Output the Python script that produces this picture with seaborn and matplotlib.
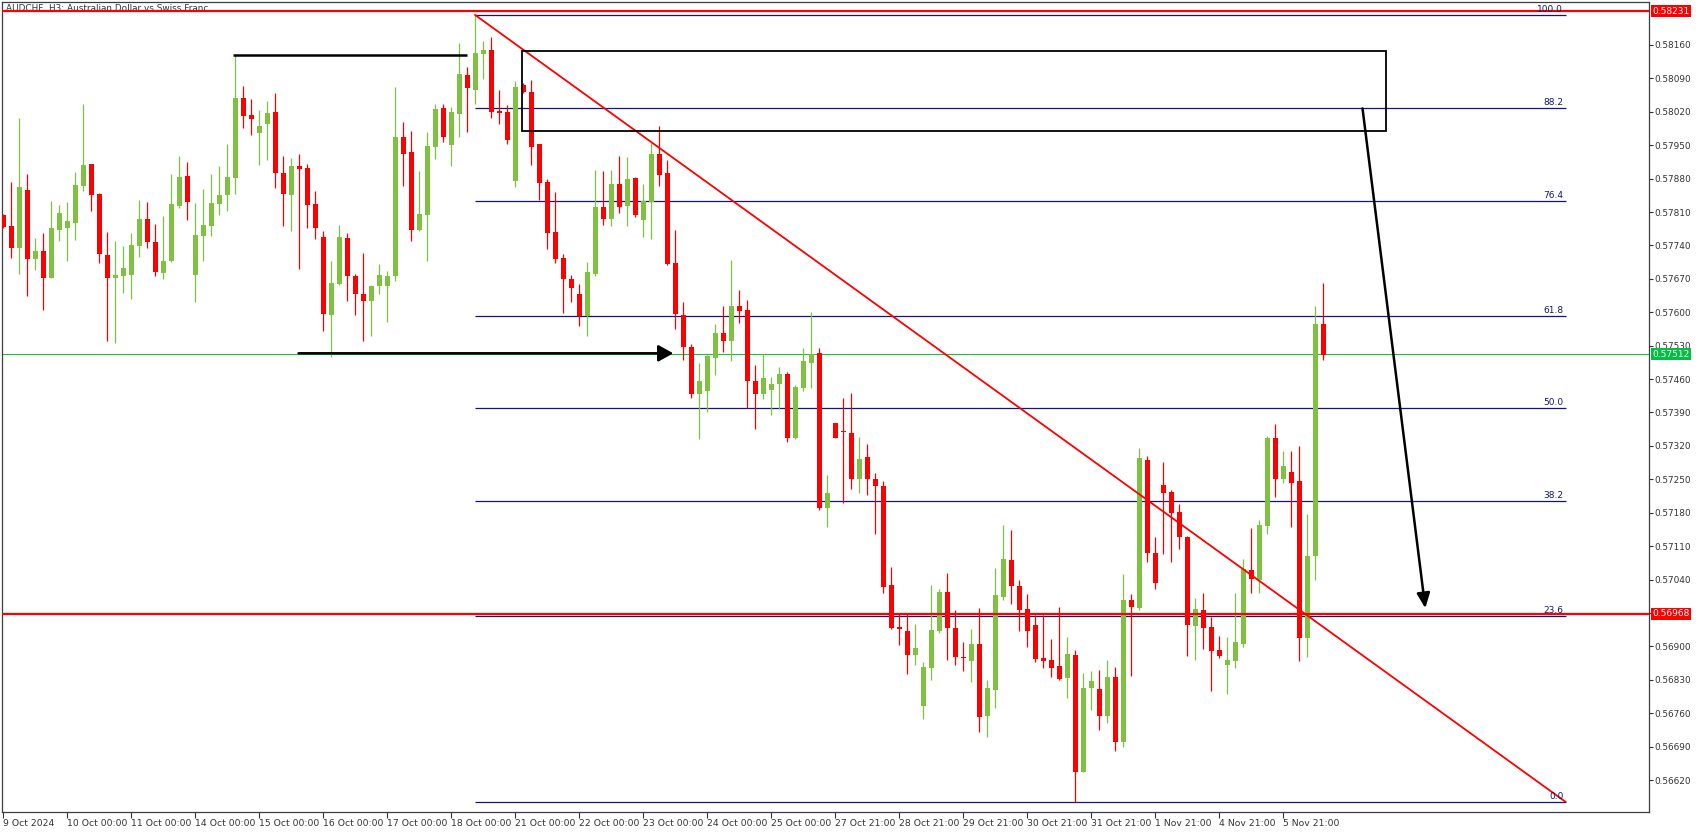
import numpy as np
import pandas as pd
import matplotlib
matplotlib.use('Agg')
import matplotlib.pyplot as plt
import matplotlib.transforms as mtransforms
from matplotlib.patches import Rectangle
import seaborn as sns

sns.set_theme(style='white')
plt.rcParams['font.family'] = ['DejaVu Sans']

# AUDCHF H3 candles
opens = [0.57804, 0.57781, 0.57735, 0.57856, 0.57711, 0.57728, 0.57672, 0.57773, 0.57777, 0.57788,
         0.57865, 0.57911, 0.57848, 0.57720, 0.57672, 0.57676, 0.57679, 0.57739, 0.57795, 0.57747,
         0.57683, 0.57707, 0.57823, 0.57885, 0.57678, 0.57760, 0.57781, 0.57827, 0.57846, 0.57882,
         0.58049, 0.58013, 0.57976, 0.57995, 0.58020, 0.57892, 0.57846, 0.57906, 0.57902, 0.57827,
         0.57758, 0.57595, 0.57660, 0.57756, 0.57676, 0.57639, 0.57624, 0.57654, 0.57656, 0.57675,
         0.57967, 0.57936, 0.57773, 0.57804, 0.57947, 0.58028, 0.57951, 0.58016, 0.58097, 0.58066,
         0.58142, 0.58150, 0.58022, 0.58020, 0.57874, 0.58076, 0.58062, 0.57953, 0.57873, 0.57769,
         0.57714, 0.57670, 0.57639, 0.57593, 0.57681, 0.57821, 0.57796, 0.57869, 0.57823, 0.57882,
         0.57794, 0.57832, 0.57932, 0.57892, 0.57704, 0.57594, 0.57527, 0.57429, 0.57436, 0.57505,
         0.57556, 0.57540, 0.57613, 0.57605, 0.57456, 0.57429, 0.57438, 0.57450, 0.57471, 0.57337,
         0.57442, 0.57494, 0.57515, 0.57190, 0.57368, 0.57351, 0.57347, 0.57251, 0.57297, 0.57250,
         0.57236, 0.57028, 0.56940, 0.56932, 0.56882, 0.56775, 0.56855, 0.56933, 0.57014, 0.56938,
         0.56877, 0.56870, 0.56905, 0.56754, 0.56809, 0.57004, 0.57081, 0.57026, 0.56978, 0.56944,
         0.56875, 0.56871, 0.56859, 0.56834, 0.56882, 0.56637, 0.56812, 0.56810, 0.56754, 0.56835,
         0.56700, 0.56997, 0.56981, 0.57290, 0.57095, 0.57238, 0.57223, 0.57181, 0.57130, 0.56943,
         0.56976, 0.56940, 0.56892, 0.56861, 0.56870, 0.56905, 0.57060, 0.57039, 0.57153, 0.57337,
         0.57251, 0.57265, 0.57247, 0.56918, 0.57090, 0.57575]
highs = [0.57806, 0.57873, 0.58007, 0.57890, 0.57756, 0.57766, 0.57833, 0.57825, 0.57831, 0.57894,
         0.58036, 0.57911, 0.57850, 0.57768, 0.57749, 0.57739, 0.57766, 0.57835, 0.57831, 0.57785,
         0.57802, 0.57890, 0.57927, 0.57915, 0.57829, 0.57858, 0.57890, 0.57906, 0.57953, 0.58138,
         0.58074, 0.58047, 0.58024, 0.58043, 0.58059, 0.57927, 0.57923, 0.57932, 0.57911, 0.57854,
         0.57770, 0.57707, 0.57783, 0.57766, 0.57680, 0.57724, 0.57657, 0.57701, 0.57686, 0.58072,
         0.57999, 0.57980, 0.57896, 0.57978, 0.58036, 0.58036, 0.58030, 0.58164, 0.58114, 0.58223,
         0.58168, 0.58177, 0.58066, 0.58034, 0.58085, 0.58080, 0.58087, 0.57953, 0.57879, 0.57852,
         0.57723, 0.57679, 0.57660, 0.57706, 0.57899, 0.57895, 0.57899, 0.57928, 0.57926, 0.57884,
         0.57869, 0.57955, 0.57991, 0.57918, 0.57773, 0.57621, 0.57533, 0.57494, 0.57510, 0.57575,
         0.57613, 0.57709, 0.57647, 0.57626, 0.57489, 0.57512, 0.57464, 0.57485, 0.57475, 0.57447,
         0.57525, 0.57600, 0.57525, 0.57259, 0.57369, 0.57420, 0.57431, 0.57338, 0.57324, 0.57263,
         0.57246, 0.57066, 0.56969, 0.56969, 0.56947, 0.56867, 0.57029, 0.57020, 0.57053, 0.56976,
         0.56909, 0.56936, 0.56980, 0.56829, 0.57064, 0.57154, 0.57144, 0.57039, 0.57009, 0.56965,
         0.56965, 0.56915, 0.56982, 0.56919, 0.56892, 0.56844, 0.56848, 0.56850, 0.56871, 0.56856,
         0.57051, 0.57009, 0.57315, 0.57299, 0.57129, 0.57286, 0.57227, 0.57198, 0.57132, 0.57001,
         0.57012, 0.56962, 0.56921, 0.56919, 0.57012, 0.57083, 0.57148, 0.57164, 0.57341, 0.57366,
         0.57309, 0.57309, 0.57320, 0.57178, 0.57614, 0.57661]
lows = [0.57777, 0.57714, 0.57681, 0.57635, 0.57688, 0.57605, 0.57672, 0.57750, 0.57708, 0.57752,
        0.57855, 0.57813, 0.57704, 0.57540, 0.57536, 0.57641, 0.57628, 0.57716, 0.57735, 0.57676,
        0.57670, 0.57706, 0.57819, 0.57794, 0.57622, 0.57708, 0.57760, 0.57804, 0.57813, 0.57848,
        0.57987, 0.57972, 0.57909, 0.57920, 0.57861, 0.57781, 0.57771, 0.57691, 0.57777, 0.57754,
        0.57561, 0.57507, 0.57658, 0.57624, 0.57595, 0.57540, 0.57551, 0.57639, 0.57580, 0.57666,
        0.57865, 0.57750, 0.57771, 0.57708, 0.57922, 0.57957, 0.57907, 0.57968, 0.57978, 0.58036,
        0.58089, 0.58006, 0.57995, 0.57953, 0.57863, 0.58059, 0.57909, 0.57836, 0.57732, 0.57704,
        0.57599, 0.57622, 0.57572, 0.57551, 0.57677, 0.57783, 0.57781, 0.57807, 0.57781, 0.57800,
        0.57758, 0.57754, 0.57865, 0.57700, 0.57564, 0.57501, 0.57421, 0.57335, 0.57392, 0.57469,
        0.57517, 0.57498, 0.57578, 0.57400, 0.57356, 0.57419, 0.57385, 0.57398, 0.57328, 0.57334,
        0.57436, 0.57442, 0.57185, 0.57150, 0.57336, 0.57201, 0.57230, 0.57222, 0.57218, 0.57136,
        0.57012, 0.56937, 0.56903, 0.56842, 0.56861, 0.56748, 0.56830, 0.56928, 0.56872, 0.56861,
        0.56849, 0.56826, 0.56721, 0.56710, 0.56771, 0.56998, 0.56989, 0.56933, 0.56899, 0.56868,
        0.56855, 0.56836, 0.56830, 0.56792, 0.56574, 0.56637, 0.56766, 0.56725, 0.56740, 0.56680,
        0.56690, 0.56838, 0.56976, 0.57077, 0.57021, 0.57094, 0.57077, 0.57104, 0.56880, 0.56872,
        0.56895, 0.56807, 0.56876, 0.56800, 0.56855, 0.56899, 0.57012, 0.57012, 0.57136, 0.57213,
        0.57243, 0.57150, 0.56870, 0.56878, 0.57039, 0.57501]
closes = [0.57779, 0.57735, 0.57862, 0.57711, 0.57728, 0.57672, 0.57776, 0.57808, 0.57791, 0.57867,
          0.57909, 0.57846, 0.57721, 0.57672, 0.57678, 0.57693, 0.57741, 0.57795, 0.57748, 0.57685,
          0.57707, 0.57827, 0.57883, 0.57832, 0.57762, 0.57783, 0.57829, 0.57846, 0.57883, 0.58049,
          0.58012, 0.58004, 0.57990, 0.58018, 0.57892, 0.57848, 0.57906, 0.57901, 0.57825, 0.57777,
          0.57597, 0.57661, 0.57758, 0.57675, 0.57639, 0.57624, 0.57655, 0.57678, 0.57676, 0.57967,
          0.57932, 0.57773, 0.57806, 0.57948, 0.58026, 0.57968, 0.58020, 0.58099, 0.58069, 0.58143,
          0.58150, 0.58020, 0.58018, 0.57960, 0.58072, 0.58062, 0.57947, 0.57871, 0.57767, 0.57712,
          0.57670, 0.57651, 0.57593, 0.57685, 0.57821, 0.57796, 0.57869, 0.57821, 0.57880, 0.57804,
          0.57834, 0.57932, 0.57888, 0.57702, 0.57596, 0.57528, 0.57429, 0.57456, 0.57508, 0.57556,
          0.57540, 0.57613, 0.57603, 0.57456, 0.57429, 0.57462, 0.57450, 0.57471, 0.57337, 0.57443,
          0.57498, 0.57512, 0.57190, 0.57221, 0.57337, 0.57350, 0.57251, 0.57292, 0.57251, 0.57236,
          0.57025, 0.56939, 0.56937, 0.56882, 0.56896, 0.56856, 0.56934, 0.57014, 0.56939, 0.56878,
          0.56876, 0.56905, 0.56752, 0.56812, 0.57007, 0.57083, 0.57027, 0.56976, 0.56933, 0.56874,
          0.56870, 0.56855, 0.56832, 0.56884, 0.56637, 0.56812, 0.56827, 0.56754, 0.56835, 0.56700,
          0.56997, 0.56983, 0.57294, 0.57096, 0.57033, 0.57222, 0.57180, 0.57130, 0.56945, 0.56978,
          0.56939, 0.56891, 0.56880, 0.56871, 0.56910, 0.57062, 0.57041, 0.57154, 0.57337, 0.57251,
          0.57278, 0.57243, 0.56918, 0.57090, 0.57575, 0.57511]

date_labels = ['9 Oct 2024', '10 Oct 00:00', '11 Oct 00:00', '14 Oct 00:00', '15 Oct 00:00',
               '16 Oct 00:00', '17 Oct 00:00', '18 Oct 00:00', '21 Oct 00:00', '22 Oct 00:00',
               '23 Oct 00:00', '24 Oct 00:00', '25 Oct 00:00', '27 Oct 21:00', '28 Oct 21:00',
               '29 Oct 21:00', '30 Oct 21:00', '31 Oct 21:00', '1 Nov 21:00', '4 Nov 21:00',
               '5 Nov 21:00']
price_ticks = [0.56620, 0.56690, 0.56760, 0.56830, 0.56900, 0.56970, 0.57040, 0.57110, 0.57180,
               0.57250, 0.57320, 0.57390, 0.57460, 0.57530, 0.57600, 0.57670, 0.57740, 0.57810,
               0.57880, 0.57950, 0.58020, 0.58090, 0.58160]
fib_ratios = [0.0, 0.236, 0.382, 0.5, 0.618, 0.764, 0.882, 1.0]

resistance = 0.58231
support = 0.56968
current = 0.57512
zone_top, zone_bottom = 0.58147, 0.57979

df = pd.DataFrame({'open': opens, 'high': highs, 'low': lows, 'close': closes})
df['bar'] = np.arange(len(df))
df['up'] = df['close'] >= df['open']

GREEN = '#7fc241'
RED = '#ff0000'
NAVY = '#16166b'
TXT = '#333333'

fig = plt.figure(figsize=(17.02, 8.33), dpi=100)
ax = fig.add_axes([2 / 1702, 1 - 812 / 833, 1647 / 1702, 810 / 833])
ax.set_facecolor('white')

# candles
cols = np.where(df['up'], GREEN, RED)
ax.vlines(df['bar'], df['low'], df['high'], colors=cols, lw=0.9, zorder=3)
body_lo = np.minimum(df['open'], df['close'])
body_h = np.maximum(np.abs(df['close'] - df['open']), 0.000015)
ax.bar(df['bar'], body_h, bottom=body_lo, width=0.64, color=cols, lw=0, zorder=4)

# fibonacci retracement from swing high to swing low
hi = df['high'].max()
lo = df['low'].min()
fib_start = int(df['high'].idxmax()) - 0.04
fib_end = 195.3
for r in fib_ratios:
    lvl = lo + r * (hi - lo)
    ax.hlines(lvl, fib_start, fib_end, color=NAVY, lw=0.9, zorder=2)
    ax.text(fib_end - 0.3, lvl + 0.00002, f'{r * 100:.1f}', color=NAVY, fontsize=6.5,
            ha='right', va='bottom', zorder=6)

# horizontal levels
ax.axhline(resistance, color=RED, lw=1.6, zorder=5)
ax.axhline(support, color=RED, lw=1.6, zorder=5)
ax.axhline(current, color='#19c23c', lw=0.8, zorder=2)

# trend line
ax.plot([fib_start, fib_end], [hi, lo], color=RED, lw=1.3, zorder=5)

# supply zone box
ax.add_patch(Rectangle((64.8, zone_bottom), 172.8 - 64.8, zone_top - zone_bottom,
                       fill=False, ec='black', lw=1.3, zorder=6))

# previous high line
ax.hlines(0.58138, 28.7, 57.96, color='black', lw=1.8, zorder=6)

# arrows
ax.annotate('', xy=(83.75, 0.57514), xytext=(36.9, 0.57514),
            arrowprops=dict(arrowstyle='-|>,head_length=0.45,head_width=0.25', color='black',
                            lw=1.8, mutation_scale=20, shrinkA=0, shrinkB=0), zorder=7)
ax.annotate('', xy=(177.75, 0.56980), xytext=(169.9, 0.58027),
            arrowprops=dict(arrowstyle='-|>,head_length=0.5,head_width=0.22', color='black',
                            lw=1.8, mutation_scale=18, shrinkA=0, shrinkB=0), zorder=7)

# axes
ax.set_xlim(-0.1625, 205.71)
ax.set_ylim(0.56553, 0.58250)
ax.yaxis.tick_right()
ax.set_yticks(price_ticks)
ax.set_yticklabels([f'{p:.5f}' for p in price_ticks])
ax.set_xticks(np.arange(0, 8 * len(date_labels), 8))
ax.set_xticklabels(date_labels)
for lbl in ax.get_xticklabels():
    lbl.set_ha('left')
ax.tick_params(axis='y', which='both', right=True, left=False, direction='out', length=3,
               width=0.8, pad=1, labelsize=6.4, colors=TXT)
ax.tick_params(axis='x', which='both', bottom=True, direction='out', length=4, width=0.8,
               pad=1, labelsize=6.7, colors=TXT)
for s in ax.spines.values():
    s.set_visible(True)
    s.set_color('#3a3f44')
    s.set_linewidth(0.9)
ax.grid(False)

# price tags on the right scale
tr = mtransforms.blended_transform_factory(ax.transAxes, ax.transData)
for val, fc in [(resistance, RED), (current, '#00c040'), (support, RED)]:
    ax.text(1.002, val, f'{val:.5f}', transform=tr, ha='left', va='center', color='white',
            fontsize=6.5, clip_on=False, zorder=8,
            bbox=dict(boxstyle='square,pad=0.18', fc=fc, ec='none'))

ax.text(0.0025, 0.9975, 'AUDCHF, H3: Australian Dollar vs Swiss Franc', transform=ax.transAxes,
        ha='left', va='top', fontsize=6.4, color=TXT, zorder=4)

fig.savefig('out.png', dpi=100)
